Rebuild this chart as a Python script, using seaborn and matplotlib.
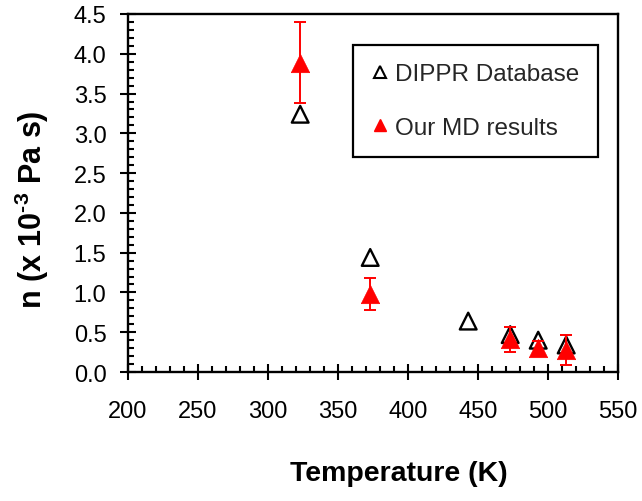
import matplotlib
matplotlib.use("Agg")
import matplotlib.pyplot as plt
from matplotlib.lines import Line2D
from matplotlib.ticker import MultipleLocator, FormatStrFormatter
import seaborn as sns
import pandas as pd

# DIPPR reference viscosities
dippr_T = [323, 373, 443, 473, 493, 513]
dippr_eta = [3.24, 1.44, 0.64, 0.47, 0.40, 0.34]

# Molecular dynamics results with uncertainties
md_T = [323, 373, 473, 493, 513]
md_eta = [3.89, 0.98, 0.41, 0.30, 0.28]
md_err = [0.51, 0.20, 0.16, 0.09, 0.19]

labels = ["DIPPR Database", "Our MD results"]

sns.set_theme(style="white")
plt.rcParams["font.family"] = ["Liberation Sans", "DejaVu Sans"]
plt.rcParams["mathtext.fontset"] = "custom"
plt.rcParams["mathtext.rm"] = "Liberation Sans:bold"
plt.rcParams["mathtext.bf"] = "Liberation Sans:bold"
plt.rcParams["mathtext.default"] = "bf"

fig = plt.figure(figsize=(6.42, 5.02), dpi=100)
ax = fig.add_axes([128 / 642, 1 - 373 / 502, 490 / 642, 358 / 502])

dippr = pd.DataFrame({"T": dippr_T, "eta": dippr_eta})
md = pd.DataFrame({"T": md_T, "eta": md_eta, "err": md_err})

sns.scatterplot(data=dippr, x="T", y="eta", marker="^", s=145,
                facecolor="none", edgecolor="black", linewidth=1.7,
                ax=ax, zorder=3)
ax.errorbar(md["T"], md["eta"], yerr=md["err"], fmt="none",
            ecolor="red", elinewidth=1.4, capsize=4, capthick=1.4, zorder=4)
sns.scatterplot(data=md, x="T", y="eta", marker="^", s=175,
                color="red", edgecolor="red", linewidth=0.5,
                ax=ax, zorder=5)

ax.set_xlim(200, 550)
ax.set_ylim(0, 4.5)
ax.xaxis.set_major_locator(MultipleLocator(50))
ax.xaxis.set_minor_locator(MultipleLocator(10))
ax.yaxis.set_major_locator(MultipleLocator(0.5))
ax.yaxis.set_minor_locator(MultipleLocator(0.1))
ax.yaxis.set_major_formatter(FormatStrFormatter("%.1f"))

ax.tick_params(which="major", direction="inout", length=11, width=1.5,
               color="black", labelsize=17, labelcolor="black")
ax.tick_params(which="minor", direction="in", length=4, width=1.5,
               color="black")
ax.tick_params(axis="x", which="both", bottom=True, top=False)
ax.tick_params(axis="y", which="both", left=True, right=False)
ax.tick_params(axis="x", which="major", pad=15)
ax.tick_params(axis="y", which="major", pad=10)

for sp in ax.spines.values():
    sp.set_visible(True)
    sp.set_color("black")
    sp.set_linewidth(1.7)

ax.set_xlabel("Temperature (K)", fontsize=20.5, fontweight="bold", color="black")
ax.set_ylabel(r"n (x 10$^{\text{-}3}$ Pa s)", fontsize=22, fontweight="bold",
              color="black")
ax.xaxis.set_label_coords(0.553, -0.245)
ax.yaxis.set_label_coords(-0.158, 0.455)

handles = [
    Line2D([], [], linestyle="none", marker="^", markersize=8,
           markerfacecolor="none", markeredgecolor="black", markeredgewidth=1.5),
    Line2D([], [], linestyle="none", marker="^", markersize=9,
           markerfacecolor="red", markeredgecolor="red"),
]
leg = ax.legend(handles, labels, loc="upper left",
                bbox_to_anchor=(0.459, 0.913), borderaxespad=0,
                fontsize=17.5, frameon=True, fancybox=False, shadow=False,
                handlelength=0.7, handletextpad=0.3, labelspacing=1.3,
                borderpad=0.75)
frame = leg.get_frame()
frame.set_edgecolor("black")
frame.set_linewidth(1.6)
frame.set_facecolor("white")
frame.set_alpha(1)

fig.savefig("out.png", dpi=100)
